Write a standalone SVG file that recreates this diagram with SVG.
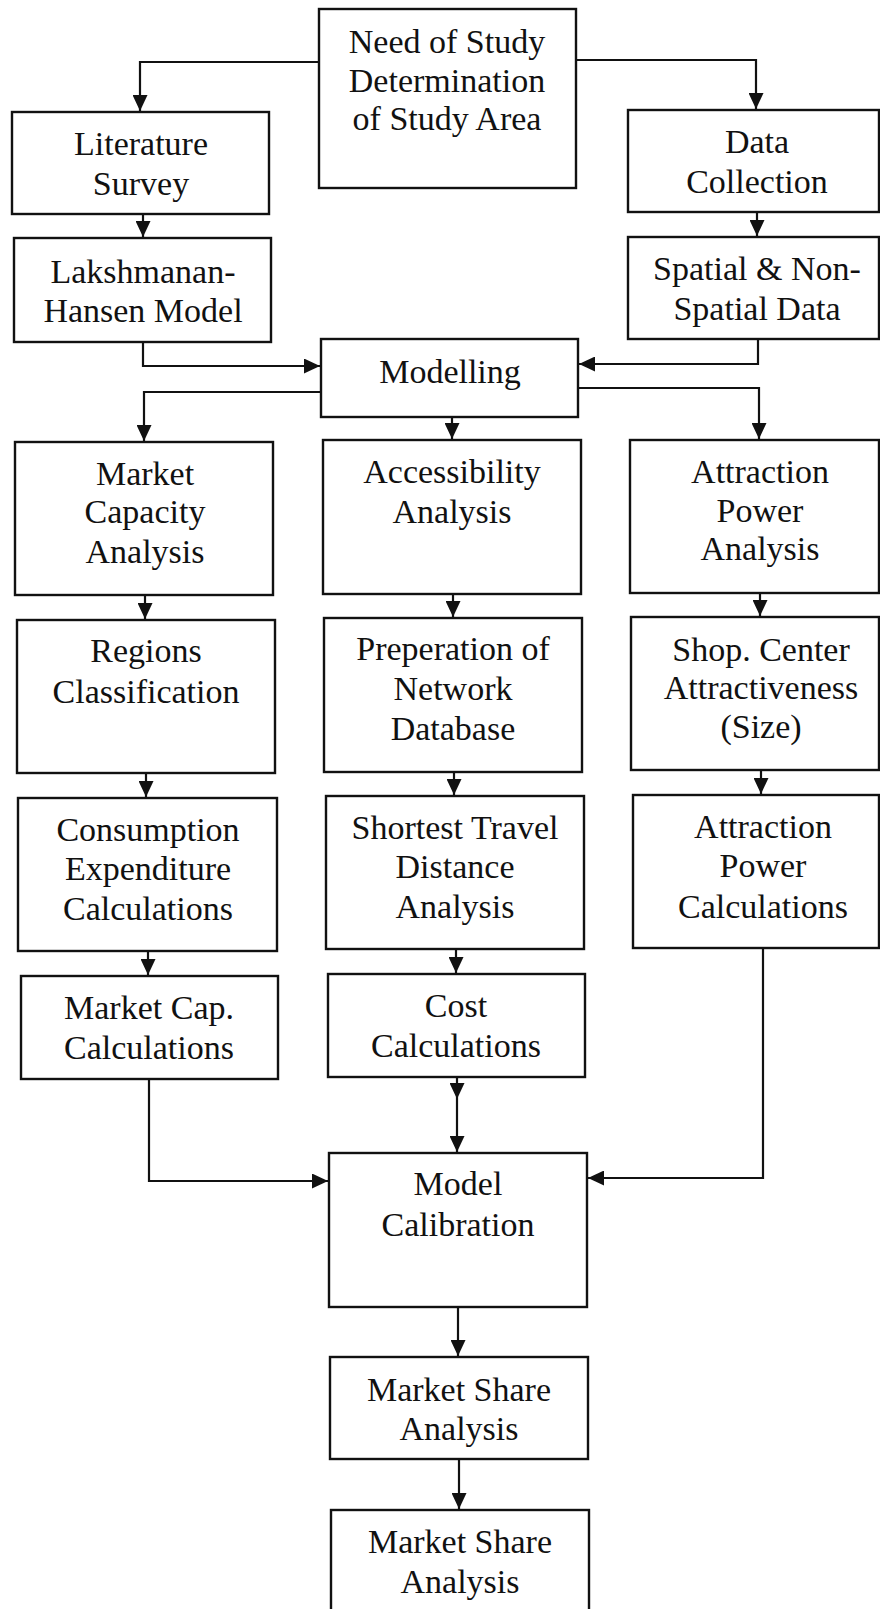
<svg xmlns="http://www.w3.org/2000/svg" width="880" height="1609" viewBox="0 0 880 1609">
<style>
.box{fill:#fff;stroke:#111;stroke-width:2.4}
.t{font-family:"Liberation Serif","Times New Roman",serif;font-size:34px;fill:#111;text-anchor:middle}
.c{fill:none;stroke:#111;stroke-width:2.2}
</style>
<defs>
<marker id="ah" markerUnits="userSpaceOnUse" markerWidth="17" markerHeight="15" refX="16" refY="7.5" orient="auto">
<path d="M0,0 L16,7.5 L0,15 z" fill="#111"/>
</marker>
</defs>
<rect width="880" height="1609" fill="#fff"/>
<g id="connectors">
<path class="c" d="M319,62 H140 V111" marker-end="url(#ah)"/>
<path class="c" d="M576,60 H756 V109" marker-end="url(#ah)"/>
<path class="c" d="M143,214 V237" marker-end="url(#ah)"/>
<path class="c" d="M757,212 V236" marker-end="url(#ah)"/>
<path class="c" d="M143,342 V366 H320" marker-end="url(#ah)"/>
<path class="c" d="M758,339 V364 H579" marker-end="url(#ah)"/>
<path class="c" d="M321,392 H144 V441" marker-end="url(#ah)"/>
<path class="c" d="M452,417 V439" marker-end="url(#ah)"/>
<path class="c" d="M578,388 H759 V439" marker-end="url(#ah)"/>
<path class="c" d="M145,595 V619" marker-end="url(#ah)"/>
<path class="c" d="M146,773 V797" marker-end="url(#ah)"/>
<path class="c" d="M148,951 V975" marker-end="url(#ah)"/>
<path class="c" d="M453,594 V617" marker-end="url(#ah)"/>
<path class="c" d="M454,772 V795" marker-end="url(#ah)"/>
<path class="c" d="M456,949 V973" marker-end="url(#ah)"/>
<path class="c" d="M760,593 V616" marker-end="url(#ah)"/>
<path class="c" d="M761,770 V794" marker-end="url(#ah)"/>
<path class="c" d="M149,1079 V1181 H328" marker-end="url(#ah)"/>
<path class="c" d="M763,948 V1178 H588" marker-end="url(#ah)"/>
<path class="c" d="M457,1077 V1099" marker-end="url(#ah)"/>
<path class="c" d="M457,1099 V1152" marker-end="url(#ah)"/>
<path class="c" d="M458,1307 V1356" marker-end="url(#ah)"/>
<path class="c" d="M459,1459 V1509" marker-end="url(#ah)"/>
</g>
<g id="need"><rect class="box" x="319" y="9" width="257" height="179"/>
<text class="t" x="447" y="53">Need of Study</text><text class="t" x="447" y="92">Determination</text><text class="t" x="447" y="130">of Study Area</text></g>
<g id="literature"><rect class="box" x="12" y="112" width="257" height="102"/>
<text class="t" x="141" y="155">Literature</text><text class="t" x="141" y="195">Survey</text></g>
<g id="data"><rect class="box" x="628" y="110" width="251" height="102"/>
<text class="t" x="757" y="153">Data</text><text class="t" x="757" y="193">Collection</text></g>
<g id="lakshmanan"><rect class="box" x="14" y="238" width="257" height="104"/>
<text class="t" x="143" y="283">Lakshmanan-</text><text class="t" x="143" y="322">Hansen Model</text></g>
<g id="spatial"><rect class="box" x="628" y="237" width="251" height="102"/>
<text class="t" x="757" y="280">Spatial &amp; Non-</text><text class="t" x="757" y="320">Spatial Data</text></g>
<g id="modelling"><rect class="box" x="321" y="339" width="257" height="78"/>
<text class="t" x="450" y="383">Modelling</text></g>
<g id="market-capacity"><rect class="box" x="15" y="442" width="258" height="153"/>
<text class="t" x="145" y="485">Market</text><text class="t" x="145" y="523">Capacity</text><text class="t" x="145" y="563">Analysis</text></g>
<g id="accessibility"><rect class="box" x="323" y="440" width="258" height="154"/>
<text class="t" x="452" y="483">Accessibility</text><text class="t" x="452" y="523">Analysis</text></g>
<g id="attraction-power"><rect class="box" x="630" y="440" width="249" height="153"/>
<text class="t" x="760" y="483">Attraction</text><text class="t" x="760" y="522">Power</text><text class="t" x="760" y="560">Analysis</text></g>
<g id="regions"><rect class="box" x="17" y="620" width="258" height="153"/>
<text class="t" x="146" y="662">Regions</text><text class="t" x="146" y="703">Classification</text></g>
<g id="preperation"><rect class="box" x="324" y="618" width="258" height="154"/>
<text class="t" x="453" y="660">Preperation of</text><text class="t" x="453" y="700">Network</text><text class="t" x="453" y="740">Database</text></g>
<g id="shop-center"><rect class="box" x="631" y="617" width="248" height="153"/>
<text class="t" x="761" y="661">Shop. Center</text><text class="t" x="761" y="699">Attractiveness</text><text class="t" x="761" y="738">(Size)</text></g>
<g id="consumption"><rect class="box" x="18" y="798" width="259" height="153"/>
<text class="t" x="148" y="841">Consumption</text><text class="t" x="148" y="880">Expenditure</text><text class="t" x="148" y="920">Calculations</text></g>
<g id="shortest"><rect class="box" x="326" y="796" width="258" height="153"/>
<text class="t" x="455" y="839">Shortest Travel</text><text class="t" x="455" y="878">Distance</text><text class="t" x="455" y="918">Analysis</text></g>
<g id="attraction-calc"><rect class="box" x="633" y="795" width="246" height="153"/>
<text class="t" x="763" y="838">Attraction</text><text class="t" x="763" y="877">Power</text><text class="t" x="763" y="918">Calculations</text></g>
<g id="market-cap-calc"><rect class="box" x="21" y="976" width="257" height="103"/>
<text class="t" x="149" y="1019">Market Cap.</text><text class="t" x="149" y="1059">Calculations</text></g>
<g id="cost"><rect class="box" x="328" y="974" width="257" height="103"/>
<text class="t" x="456" y="1017">Cost</text><text class="t" x="456" y="1057">Calculations</text></g>
<g id="model-calibration"><rect class="box" x="329" y="1153" width="258" height="154"/>
<text class="t" x="458" y="1195">Model</text><text class="t" x="458" y="1236">Calibration</text></g>
<g id="market-share-1"><rect class="box" x="330" y="1357" width="258" height="102"/>
<text class="t" x="459" y="1401">Market Share</text><text class="t" x="459" y="1440">Analysis</text></g>
<g id="market-share-2"><rect class="box" x="331" y="1510" width="258" height="104"/>
<text class="t" x="460" y="1553">Market Share</text><text class="t" x="460" y="1593">Analysis</text></g>
</svg>
